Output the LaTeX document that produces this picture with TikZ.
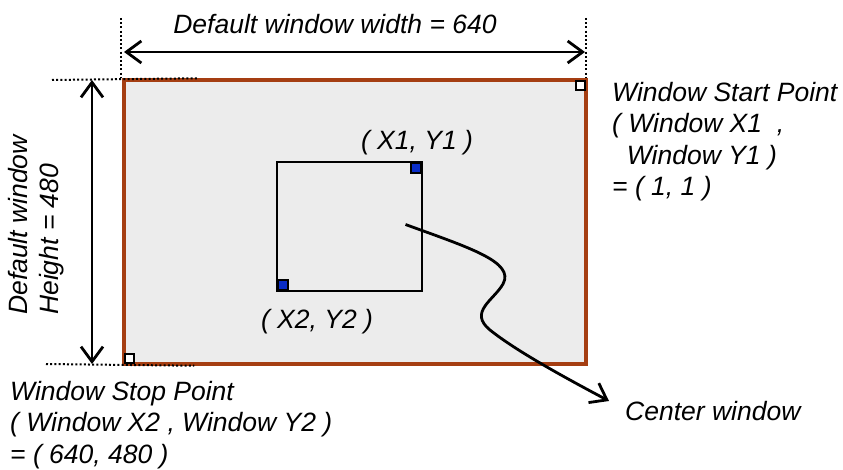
\documentclass[tikz,border=0pt]{standalone}
\usepackage{fontspec}
\setmainfont{Liberation Sans}
\usetikzlibrary{arrows.meta,positioning,calc}

\definecolor{winbrown}{RGB}{165,62,18}
\definecolor{wingray}{RGB}{236,236,236}
\definecolor{markblue}{RGB}{10,45,200}

\tikzset{
    lbl/.style={font=\fontsize{26.5}{31.5}\selectfont\itshape, inner sep=0pt},
    dimline/.style={line width=2.8pt, {Straight Barb[length=15pt,width=22pt]}-{Straight Barb[length=15pt,width=22pt]}},
    guide/.style={line width=2pt, dash pattern=on 2pt off 2.2pt},
    corner/.style={draw, line width=2pt, fill=white, minimum size=9pt, inner sep=0pt},
    bluecorner/.style={draw, line width=1.8pt, fill=markblue, minimum size=10pt, inner sep=0pt}
}

\begin{document}
\begin{tikzpicture}[x=1pt, y=-1pt]
    \useasboundingbox (0,0) rectangle (843,470);

    % Window
    \node[draw=winbrown, line width=3.5pt, fill=wingray, minimum width=462pt, minimum height=284pt, inner sep=0pt] (win) at (355,222) {};

    % Center window
    \node[draw, line width=2.8pt, minimum width=145pt, minimum height=129pt, inner sep=0pt] (cwin) at (349.5,226.5) {};
    \node[bluecorner, anchor=north east] (p1) at ([xshift=-1.4pt,yshift=-1.4pt]cwin.north east) {};
    \node[bluecorner, anchor=south west] (p2) at ([xshift=1.4pt,yshift=1.4pt]cwin.south west) {};
    \node[lbl] (p1lbl) at (417,143) {( X1, Y1 )};
    \node[lbl] (p2lbl) at (317,322) {( X2, Y2 )};

    % Corner points
    \node[corner, anchor=north east] (wstart) at ([xshift=-1.8pt,yshift=-1.8pt]win.north east) {};
    \node[corner, anchor=south west] (wstop) at ([xshift=1.8pt,yshift=1.8pt]win.south west) {};

    % Guide lines
    \coordinate (gtl) at (121,18);
    \coordinate (gtr) at (586,18);
    \coordinate (glt) at (52,80);
    \coordinate (glb) at (46,364);
    \draw[guide] (gtl) -- (gtl |- win.north);
    \draw[guide] (gtr) -- (gtr |- win.north);
    \draw[guide] (glt) -- ([xshift=76pt]win.north west);
    \draw[guide] (glb) -- ([xshift=72pt]win.south west);

    % Dimensions
    \coordinate (wl) at (124,52);
    \coordinate (wr) at (585,52);
    \coordinate (ht) at (92,80);
    \coordinate (hb) at (92,364);
    \draw[dimline] (wl) -- (wr);
    \draw[dimline] (ht) -- (hb);
    \node[lbl] (wlbl) at (335,24) {Default window width = 640};
    \node[lbl, rotate=90, align=left] (hlbl) at (36,225) {Default window\\Height = 480};

    % Start / stop labels
    \node[lbl, anchor=north west, align=left] (startlbl) at (612,82) {Window Start Point\\( Window X1\ \ ,\\\ \ Window Y1 )\\= ( 1, 1 )};
    \node[lbl, anchor=north west, align=left] (stoplbl) at (10,381) {Window Stop Point\\( Window X2 , Window Y2 )\\= ( 640, 480 )};

    % Center window pointer
    \node[lbl, anchor=west] (cwlbl) at (625,411) {Center window};
    \coordinate (cwfrom) at ($(cwin.center)+(56,-2)$);
    \coordinate (cwto) at ($(cwlbl.west)+(-16,-10)$);
    \draw[line width=2.8pt, -{Straight Barb[length=15pt,width=22pt]}] (cwfrom) .. controls (470,248) and (515,262) .. (503,284)
        .. controls (494,300) and (468,312) .. (490,330) .. controls (515,350) and (560,375) .. (cwto);
\end{tikzpicture}
\end{document}
